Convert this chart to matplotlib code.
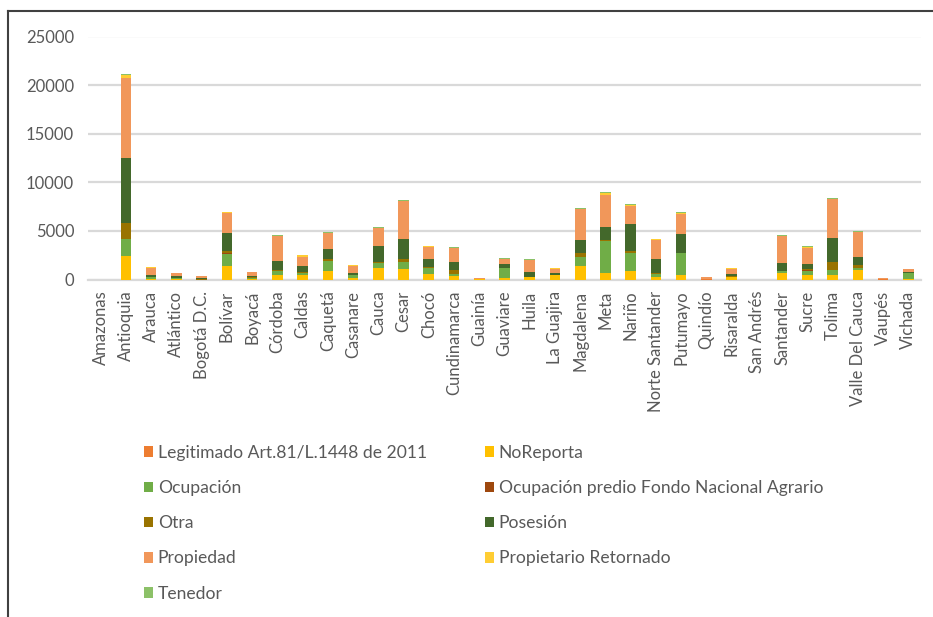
import matplotlib
matplotlib.use("Agg")
import matplotlib.pyplot as plt
from matplotlib.lines import Line2D
import numpy as np

plt.rcParams['font.family'] = ['Lato', 'DejaVu Sans']

# Departamentos
departamentos = ["Amazonas", "Antioquia", "Arauca", "Atlántico", "Bogotá D.C.", "Bolívar",
                 "Boyacá", "Córdoba", "Caldas", "Caquetá", "Casanare", "Cauca", "Cesar",
                 "Chocó", "Cundinamarca", "Guainía", "Guaviare", "Huila", "La Guajira",
                 "Magdalena", "Meta", "Nariño", "Norte Santander", "Putumayo", "Quindío",
                 "Risaralda", "San Andrés", "Santander", "Sucre", "Tolima",
                 "Valle Del Cauca", "Vaupés", "Vichada"]

# Relación con el predio (apiladas en este orden)
legitimado = [0, 0, 0, 0, 0, 0, 0, 0, 0, 0, 0, 0, 0, 0, 0, 0, 0, 0, 0,
              0, 0, 0, 0, 0, 20, 0, 0, 0, 0, 0, 0, 20, 0]
no_reporta = [0, 2430, 30, 60, 0, 1410, 100, 447, 447, 859, 172, 1203, 1100, 584, 344, 20,
              172, 206, 447, 1409, 653, 893, 240, 447, 20, 275, 0, 653, 447, 447, 962, 0, 60]
ocupacion = [0, 1780, 230, 80, 0, 1235, 60, 378, 206, 1031, 240, 446, 687, 619, 206, 0,
             996, 69, 0, 927, 3264, 1856, 344, 2302, 0, 0, 0, 206, 412, 515, 241, 0, 627]
ocupacion_fna = [0, 0, 0, 0, 0, 50, 0, 0, 0, 0, 0, 0, 0, 0, 0, 0, 0, 0, 0,
                 0, 0, 0, 0, 0, 0, 0, 0, 0, 100, 0, 0, 0, 0]
otra = [0, 1580, 0, 0, 60, 190, 60, 103, 137, 172, 0, 103, 343, 60, 412, 0,
        0, 0, 0, 344, 137, 137, 103, 0, 0, 100, 0, 0, 106, 859, 309, 0, 0]
posesion = [0, 6670, 190, 240, 80, 1890, 130, 927, 619, 1030, 275, 1650, 1993, 867, 859, 0,
            447, 515, 206, 1340, 1340, 2818, 1443, 1924, 0, 209, 0, 859, 550, 2405, 756, 0, 103]
propiedad = [0, 8250, 780, 240, 240, 2030, 400, 2577, 927, 1684, 687, 1924, 3917, 1237, 1375, 150,
             447, 1168, 447, 3230, 3333, 1890, 1924, 2096, 200, 516, 0, 2714, 1581, 4020, 2645, 150, 310]
propietario_ret = [0, 280, 40, 70, 30, 140, 40, 0, 138, 0, 138, 0, 0, 103, 0, 0,
                   0, 0, 60, 0, 138, 103, 104, 103, 0, 40, 0, 0, 137, 0, 0, 0, 0]
tenedor = [0, 130, 0, 0, 0, 0, 0, 103, 0, 137, 0, 104, 172, 0, 137, 0,
           103, 104, 0, 103, 103, 103, 0, 68, 0, 0, 0, 103, 103, 104, 104, 0, 0]

series = [
    ("Legitimado Art.81/L.1448 de 2011", legitimado, "#ED7D31"),
    ("NoReporta", no_reporta, "#FFC000"),
    ("Ocupación", ocupacion, "#70AD47"),
    ("Ocupación predio Fondo Nacional Agrario", ocupacion_fna, "#9E480E"),
    ("Otra", otra, "#997300"),
    ("Posesión", posesion, "#43682B"),
    ("Propiedad", propiedad, "#F1975A"),
    ("Propietario Retornado", propietario_ret, "#FFCD33"),
    ("Tenedor", tenedor, "#8CC168"),
]

W, H = 933, 617
fig = plt.figure(figsize=(W / 100, H / 100), dpi=100)
ax = fig.add_axes([88 / W, 1 - 279.5 / H, (921 - 88) / W, (279.5 - 36.5) / H])

x = np.arange(len(departamentos))
bottom = np.zeros(len(departamentos))
handles = []
for name, vals, color in series:
    vals = np.array(vals, dtype=float)
    b = ax.bar(x, vals, 0.42, bottom=bottom, color=color, label=name, zorder=3)
    handles.append(b)
    bottom += vals

ax.set_xlim(-0.5, len(departamentos) - 0.5)
ax.set_ylim(0, 25000)
ax.set_yticks(range(0, 25001, 5000))
ax.set_xticks(x)
ax.set_xticklabels(departamentos, rotation=90)
ax.tick_params(length=0, labelsize=12, colors="#595959")
ax.tick_params(axis="y", pad=10)
ax.tick_params(axis="x", pad=8)
ax.grid(axis="y", color="#D9D9D9", linewidth=1.6, zorder=0)
for s in ["top", "right", "left"]:
    ax.spines[s].set_visible(False)
ax.spines["bottom"].set_color("#D9D9D9")
ax.spines["bottom"].set_linewidth(1.6)

# legend filled row by row in two columns
order = [0, 2, 4, 6, 8, 1, 3, 5, 7]
fig.legend([handles[i] for i in order], [series[i][0] for i in order],
           ncol=2, loc="upper left", bbox_to_anchor=(128 / W, 1 - 429 / H),
           frameon=False, fontsize=12.6, labelcolor="#595959",
           handlelength=0.55, handleheight=0.55, handletextpad=0.25,
           labelspacing=1.1, columnspacing=3.3)

# outer frame
fig.add_artist(Line2D([8 / W, 8 / W], [0, 1 - 11 / H], color="#404040", linewidth=1.5))
fig.add_artist(Line2D([8 / W, 1], [1 - 11 / H, 1 - 11 / H], color="#404040", linewidth=1.5))

fig.savefig("out.png", dpi=100, facecolor="white")
